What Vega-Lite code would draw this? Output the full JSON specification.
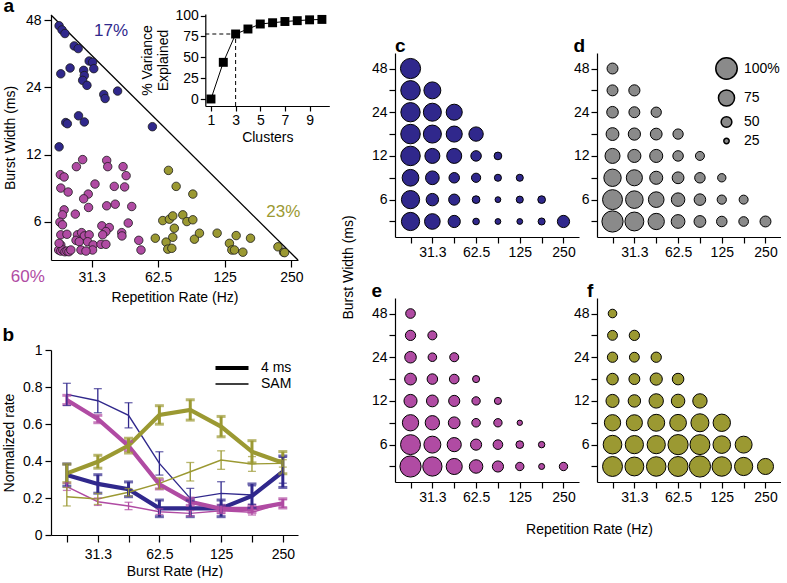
{
"$schema":"https://vega.github.io/schema/vega-lite/v6.json",
"padding":{"left":2,"top":-4,"right":0,"bottom":0},
"config":{
 "font":"Liberation Sans",
 "view":{"stroke":null},
 "axis":{"grid":false,"domainColor":"black","tickColor":"black","labelColor":"black","titleColor":"black","labelFontSize":14,"titleFontSize":14,"titleFontWeight":"normal","domainWidth":1.2,"tickWidth":1.2,"labelFont":"Liberation Sans","titleFont":"Liberation Sans"},
 "title":{"anchor":"start","frame":"bounds","fontSize":19,"fontWeight":"bold","font":"Liberation Sans","color":"black","offset":4},
 "legend":{"labelFont":"Liberation Sans","labelColor":"black"}
},
"datasets":{
 "scat":[
  {"r":22.3,"w":45.3,"g":"c1"},{"r":23.0,"w":43.4,"g":"c1"},{"r":23.7,"w":41.8,"g":"c1"},{"r":26.1,"w":36.8,"g":"c1"},{"r":27.2,"w":35.8,"g":"c1"},{"r":30.5,"w":31.5,"g":"c1"},{"r":31.6,"w":31.1,"g":"c1"},{"r":32.0,"w":29.1,"g":"c1"},{"r":28.8,"w":28.6,"g":"c1"},{"r":25.0,"w":29.3,"g":"c1"},{"r":22.7,"w":27.6,"g":"c1"},{"r":29.0,"w":27.1,"g":"c1"},{"r":28.5,"w":25.8,"g":"c1"},{"r":29.8,"w":24.5,"g":"c1"},{"r":35.5,"w":22.3,"g":"c1"},{"r":36.0,"w":21.4,"g":"c1"},{"r":41.0,"w":23.1,"g":"c1"},{"r":27.3,"w":17.9,"g":"c1"},{"r":29.0,"w":16.8,"g":"c1"},{"r":23.9,"w":16.7,"g":"c1"},{"r":24.3,"w":16.5,"g":"c1"},{"r":58.9,"w":16.0,"g":"c1"},{"r":22.3,"w":13.0,"g":"c1"},
  {"r":28.5,"w":11.4,"g":"c2"},{"r":26.7,"w":10.6,"g":"c2"},{"r":36.6,"w":11.3,"g":"c2"},{"r":37.0,"w":10.6,"g":"c2"},{"r":43.4,"w":10.6,"g":"c2"},{"r":44.8,"w":9.66,"g":"c2"},{"r":22.6,"w":9.76,"g":"c2"},{"r":23.5,"w":9.53,"g":"c2"},{"r":32.4,"w":8.86,"g":"c2"},{"r":22.7,"w":8.5,"g":"c2"},{"r":24.5,"w":8.16,"g":"c2"},{"r":39.6,"w":8.65,"g":"c2"},{"r":44.1,"w":8.6,"g":"c2"},{"r":30.2,"w":7.99,"g":"c2"},{"r":28.8,"w":7.61,"g":"c2"},{"r":30.3,"w":6.96,"g":"c2"},{"r":36.6,"w":7.08,"g":"c2"},{"r":40.0,"w":7.2,"g":"c2"},{"r":47.5,"w":7.03,"g":"c2"},{"r":23.5,"w":6.79,"g":"c2"},{"r":23.1,"w":6.45,"g":"c2"},{"r":26.4,"w":6.5,"g":"c2"},{"r":22.5,"w":5.98,"g":"c2"},{"r":23.1,"w":5.82,"g":"c2"},{"r":34.8,"w":5.76,"g":"c2"},{"r":37.6,"w":5.66,"g":"c2"},{"r":45.8,"w":5.93,"g":"c2"},{"r":36.3,"w":5.43,"g":"c2"},{"r":42.8,"w":5.37,"g":"c2"},{"r":42.9,"w":5.19,"g":"c2"},{"r":22.7,"w":5.25,"g":"c2"},{"r":24.2,"w":5.28,"g":"c2"},{"r":27.0,"w":5.25,"g":"c2"},{"r":28.2,"w":5.37,"g":"c2"},{"r":29.0,"w":5.19,"g":"c2"},{"r":30.5,"w":5.25,"g":"c2"},{"r":35.1,"w":5.25,"g":"c2"},{"r":51.1,"w":4.96,"g":"c2"},{"r":26.6,"w":4.96,"g":"c2"},{"r":27.5,"w":4.89,"g":"c2"},{"r":30.0,"w":4.89,"g":"c2"},{"r":31.8,"w":4.73,"g":"c2"},{"r":34.5,"w":4.76,"g":"c2"},{"r":36.3,"w":4.76,"g":"c2"},{"r":22.7,"w":4.73,"g":"c2"},{"r":52.3,"w":4.49,"g":"c2"},{"r":28.0,"w":4.49,"g":"c2"},{"r":31.6,"w":4.49,"g":"c2"},{"r":29.5,"w":4.44,"g":"c2"},{"r":22.2,"w":4.49,"g":"c2"},{"r":22.7,"w":4.44,"g":"c2"},{"r":23.2,"w":4.49,"g":"c2"},{"r":23.7,"w":4.41,"g":"c2"},{"r":24.2,"w":4.44,"g":"c2"},{"r":24.7,"w":4.41,"g":"c2"},{"r":25.2,"w":4.49,"g":"c2"},{"r":22.3,"w":4.81,"g":"c2"},
  {"r":69.6,"w":10.2,"g":"c3"},{"r":75.4,"w":8.65,"g":"c3"},{"r":89.7,"w":7.99,"g":"c3"},{"r":65.6,"w":6.08,"g":"c3"},{"r":70.3,"w":6.17,"g":"c3"},{"r":72.8,"w":6.38,"g":"c3"},{"r":80.8,"w":6.45,"g":"c3"},{"r":84.3,"w":6.02,"g":"c3"},{"r":89.7,"w":6.13,"g":"c3"},{"r":74.0,"w":5.62,"g":"c3"},{"r":60.7,"w":5.07,"g":"c3"},{"r":72.8,"w":5.12,"g":"c3"},{"r":67.9,"w":4.87,"g":"c3"},{"r":69.1,"w":4.53,"g":"c3"},{"r":72.1,"w":4.57,"g":"c3"},{"r":91.2,"w":5.02,"g":"c3"},{"r":96.1,"w":5.34,"g":"c3"},{"r":115.5,"w":5.34,"g":"c3"},{"r":140.8,"w":5.21,"g":"c3"},{"r":163.5,"w":5.07,"g":"c3"},{"r":131.3,"w":4.81,"g":"c3"},{"r":134.6,"w":4.49,"g":"c3"},{"r":138.3,"w":4.49,"g":"c3"},{"r":151.0,"w":4.39,"g":"c3"},{"r":217.5,"w":4.64,"g":"c3"},{"r":230.6,"w":4.39,"g":"c3"},{"r":233,"w":4.37,"g":"c3"}
 ],
 "pve":[{"k":1,"v":0},{"k":2,"v":44},{"k":3,"v":78},{"k":4,"v":84},{"k":5,"v":90},{"k":6,"v":91.5},{"k":7,"v":93},{"k":8,"v":94},{"k":9,"v":95},{"k":10,"v":95.5}],
 "br":[
  {"r":22.1,"g":"c1","s":"4 ms","m":0.324,"lo":0.264,"hi":0.384},{"r":31.3,"g":"c1","s":"4 ms","m":0.276,"lo":0.226,"hi":0.326},{"r":44.2,"g":"c1","s":"4 ms","m":0.247,"lo":0.207,"hi":0.287},{"r":62.5,"g":"c1","s":"4 ms","m":0.144,"lo":0.099,"hi":0.189},{"r":88.4,"g":"c1","s":"4 ms","m":0.144,"lo":0.099,"hi":0.189},{"r":125,"g":"c1","s":"4 ms","m":0.144,"lo":0.099,"hi":0.189},{"r":176.8,"g":"c1","s":"4 ms","m":0.211,"lo":0.146,"hi":0.276},{"r":250,"g":"c1","s":"4 ms","m":0.342,"lo":0.257,"hi":0.427},
  {"r":22.1,"g":"c1","s":"SAM","m":0.76,"lo":0.70,"hi":0.82},{"r":31.3,"g":"c1","s":"SAM","m":0.726,"lo":0.661,"hi":0.791},{"r":44.2,"g":"c1","s":"SAM","m":0.647,"lo":0.579,"hi":0.715},{"r":62.5,"g":"c1","s":"SAM","m":0.387,"lo":0.324,"hi":0.45},{"r":88.4,"g":"c1","s":"SAM","m":0.198,"lo":0.144,"hi":0.252},{"r":125,"g":"c1","s":"SAM","m":0.225,"lo":0.162,"hi":0.288},{"r":176.8,"g":"c1","s":"SAM","m":0.216,"lo":0.166,"hi":0.266},{"r":250,"g":"c1","s":"SAM","m":0.35,"lo":0.28,"hi":0.42},
  {"r":22.1,"g":"c2","s":"4 ms","m":0.73,"lo":0.705,"hi":0.755},{"r":31.3,"g":"c2","s":"4 ms","m":0.627,"lo":0.607,"hi":0.647},{"r":44.2,"g":"c2","s":"4 ms","m":0.481,"lo":0.456,"hi":0.506},{"r":62.5,"g":"c2","s":"4 ms","m":0.274,"lo":0.249,"hi":0.299},{"r":88.4,"g":"c2","s":"4 ms","m":0.18,"lo":0.16,"hi":0.2},{"r":125,"g":"c2","s":"4 ms","m":0.141,"lo":0.121,"hi":0.161},{"r":176.8,"g":"c2","s":"4 ms","m":0.141,"lo":0.121,"hi":0.161},{"r":250,"g":"c2","s":"4 ms","m":0.171,"lo":0.146,"hi":0.196},
  {"r":22.1,"g":"c2","s":"SAM","m":0.261,"lo":0.241,"hi":0.281},{"r":31.3,"g":"c2","s":"SAM","m":0.18,"lo":0.16,"hi":0.2},{"r":44.2,"g":"c2","s":"SAM","m":0.157,"lo":0.137,"hi":0.177},{"r":62.5,"g":"c2","s":"SAM","m":0.126,"lo":0.111,"hi":0.141},{"r":88.4,"g":"c2","s":"SAM","m":0.117,"lo":0.102,"hi":0.132},{"r":125,"g":"c2","s":"SAM","m":0.131,"lo":0.116,"hi":0.146},{"r":176.8,"g":"c2","s":"SAM","m":0.123,"lo":0.108,"hi":0.138},{"r":250,"g":"c2","s":"SAM","m":0.171,"lo":0.151,"hi":0.191},
  {"r":22.1,"g":"c3","s":"4 ms","m":0.333,"lo":0.283,"hi":0.383},{"r":31.3,"g":"c3","s":"4 ms","m":0.396,"lo":0.361,"hi":0.431},{"r":44.2,"g":"c3","s":"4 ms","m":0.483,"lo":0.443,"hi":0.523},{"r":62.5,"g":"c3","s":"4 ms","m":0.649,"lo":0.599,"hi":0.699},{"r":88.4,"g":"c3","s":"4 ms","m":0.676,"lo":0.621,"hi":0.731},{"r":125,"g":"c3","s":"4 ms","m":0.586,"lo":0.531,"hi":0.641},{"r":176.8,"g":"c3","s":"4 ms","m":0.45,"lo":0.39,"hi":0.51},{"r":250,"g":"c3","s":"4 ms","m":0.391,"lo":0.331,"hi":0.451},
  {"r":22.1,"g":"c3","s":"SAM","m":0.207,"lo":0.157,"hi":0.257},{"r":31.3,"g":"c3","s":"SAM","m":0.195,"lo":0.165,"hi":0.225},{"r":44.2,"g":"c3","s":"SAM","m":0.231,"lo":0.211,"hi":0.251},{"r":62.5,"g":"c3","s":"SAM","m":0.279,"lo":0.249,"hi":0.309},{"r":88.4,"g":"c3","s":"SAM","m":0.342,"lo":0.292,"hi":0.392},{"r":125,"g":"c3","s":"SAM","m":0.405,"lo":0.355,"hi":0.455},{"r":176.8,"g":"c3","s":"SAM","m":0.384,"lo":0.344,"hi":0.424},{"r":250,"g":"c3","s":"SAM","m":0.387,"lo":0.367,"hi":0.407}
 ],
 "grid":[
  {"p":"c","r":22.1,"w":48,"v":94},
  {"p":"c","r":22.1,"w":34,"v":91},{"p":"c","r":31.3,"w":34,"v":79},
  {"p":"c","r":22.1,"w":24,"v":90},{"p":"c","r":31.3,"w":24,"v":84},{"p":"c","r":44.2,"w":24,"v":75},
  {"p":"c","r":22.1,"w":17,"v":91},{"p":"c","r":31.3,"w":17,"v":84},{"p":"c","r":44.2,"w":17,"v":75},{"p":"c","r":62.5,"w":17,"v":67},
  {"p":"c","r":22.1,"w":12,"v":91},{"p":"c","r":31.3,"w":12,"v":70},{"p":"c","r":44.2,"w":12,"v":70},{"p":"c","r":62.5,"w":12,"v":49},{"p":"c","r":88.4,"w":12,"v":36},
  {"p":"c","r":22.1,"w":8.5,"v":78},{"p":"c","r":31.3,"w":8.5,"v":64},{"p":"c","r":44.2,"w":8.5,"v":49},{"p":"c","r":62.5,"w":8.5,"v":43},{"p":"c","r":88.4,"w":8.5,"v":33},{"p":"c","r":125,"w":8.5,"v":33},
  {"p":"c","r":22.1,"w":6,"v":85},{"p":"c","r":31.3,"w":6,"v":58},{"p":"c","r":44.2,"w":6,"v":52},{"p":"c","r":62.5,"w":6,"v":36},{"p":"c","r":88.4,"w":6,"v":27},{"p":"c","r":125,"w":6,"v":33},{"p":"c","r":176.8,"w":6,"v":36},
  {"p":"c","r":22.1,"w":4.2,"v":85},{"p":"c","r":31.3,"w":4.2,"v":73},{"p":"c","r":44.2,"w":4.2,"v":57},{"p":"c","r":62.5,"w":4.2,"v":31},{"p":"c","r":88.4,"w":4.2,"v":27},{"p":"c","r":125,"w":4.2,"v":27},{"p":"c","r":176.8,"w":4.2,"v":33},{"p":"c","r":250,"w":4.2,"v":57},
  {"p":"d","r":22.1,"w":48,"v":51},
  {"p":"d","r":22.1,"w":34,"v":51},{"p":"d","r":31.3,"w":34,"v":52},
  {"p":"d","r":22.1,"w":24,"v":54},{"p":"d","r":31.3,"w":24,"v":51},{"p":"d","r":44.2,"w":24,"v":48},
  {"p":"d","r":22.1,"w":17,"v":60},{"p":"d","r":31.3,"w":17,"v":57},{"p":"d","r":44.2,"w":17,"v":55},{"p":"d","r":62.5,"w":17,"v":48},
  {"p":"d","r":22.1,"w":12,"v":70},{"p":"d","r":31.3,"w":12,"v":61},{"p":"d","r":44.2,"w":12,"v":61},{"p":"d","r":62.5,"w":12,"v":49},{"p":"d","r":88.4,"w":12,"v":42},
  {"p":"d","r":22.1,"w":8.5,"v":81},{"p":"d","r":31.3,"w":8.5,"v":75},{"p":"d","r":44.2,"w":8.5,"v":61},{"p":"d","r":62.5,"w":8.5,"v":55},{"p":"d","r":88.4,"w":8.5,"v":49},{"p":"d","r":125,"w":8.5,"v":39},
  {"p":"d","r":22.1,"w":6,"v":93},{"p":"d","r":31.3,"w":6,"v":82},{"p":"d","r":44.2,"w":6,"v":73},{"p":"d","r":62.5,"w":6,"v":63},{"p":"d","r":88.4,"w":6,"v":54},{"p":"d","r":125,"w":6,"v":43},{"p":"d","r":176.8,"w":6,"v":42},
  {"p":"d","r":22.1,"w":4.2,"v":99},{"p":"d","r":31.3,"w":4.2,"v":88},{"p":"d","r":44.2,"w":4.2,"v":76},{"p":"d","r":62.5,"w":4.2,"v":64},{"p":"d","r":88.4,"w":4.2,"v":55},{"p":"d","r":125,"w":4.2,"v":49},{"p":"d","r":176.8,"w":4.2,"v":45},{"p":"d","r":250,"w":4.2,"v":51},
  {"p":"e","r":22.1,"w":48,"v":45},
  {"p":"e","r":22.1,"w":34,"v":48},{"p":"e","r":31.3,"w":34,"v":42},
  {"p":"e","r":22.1,"w":24,"v":54},{"p":"e","r":31.3,"w":24,"v":40},{"p":"e","r":44.2,"w":24,"v":42},
  {"p":"e","r":22.1,"w":17,"v":55},{"p":"e","r":31.3,"w":17,"v":49},{"p":"e","r":44.2,"w":17,"v":45},{"p":"e","r":62.5,"w":17,"v":33},
  {"p":"e","r":22.1,"w":12,"v":61},{"p":"e","r":31.3,"w":12,"v":55},{"p":"e","r":44.2,"w":12,"v":52},{"p":"e","r":62.5,"w":12,"v":39},{"p":"e","r":88.4,"w":12,"v":33},
  {"p":"e","r":22.1,"w":8.5,"v":76},{"p":"e","r":31.3,"w":8.5,"v":67},{"p":"e","r":44.2,"w":8.5,"v":55},{"p":"e","r":62.5,"w":8.5,"v":40},{"p":"e","r":88.4,"w":8.5,"v":39},{"p":"e","r":125,"w":8.5,"v":25},
  {"p":"e","r":22.1,"w":6,"v":93},{"p":"e","r":31.3,"w":6,"v":79},{"p":"e","r":44.2,"w":6,"v":66},{"p":"e","r":62.5,"w":6,"v":52},{"p":"e","r":88.4,"w":6,"v":45},{"p":"e","r":125,"w":6,"v":36},{"p":"e","r":176.8,"w":6,"v":30},
  {"p":"e","r":22.1,"w":4.2,"v":99},{"p":"e","r":31.3,"w":4.2,"v":90},{"p":"e","r":44.2,"w":4.2,"v":75},{"p":"e","r":62.5,"w":4.2,"v":63},{"p":"e","r":88.4,"w":4.2,"v":52},{"p":"e","r":125,"w":4.2,"v":39},{"p":"e","r":176.8,"w":4.2,"v":28},{"p":"e","r":250,"w":4.2,"v":39},
  {"p":"f","r":22.1,"w":48,"v":40},
  {"p":"f","r":22.1,"w":34,"v":46},{"p":"f","r":31.3,"w":34,"v":48},
  {"p":"f","r":22.1,"w":24,"v":48},{"p":"f","r":31.3,"w":24,"v":46},{"p":"f","r":44.2,"w":24,"v":48},
  {"p":"f","r":22.1,"w":17,"v":54},{"p":"f","r":31.3,"w":17,"v":51},{"p":"f","r":44.2,"w":17,"v":57},{"p":"f","r":62.5,"w":17,"v":54},
  {"p":"f","r":22.1,"w":12,"v":61},{"p":"f","r":31.3,"w":12,"v":58},{"p":"f","r":44.2,"w":12,"v":67},{"p":"f","r":62.5,"w":12,"v":63},{"p":"f","r":88.4,"w":12,"v":67},
  {"p":"f","r":22.1,"w":8.5,"v":76},{"p":"f","r":31.3,"w":8.5,"v":75},{"p":"f","r":44.2,"w":8.5,"v":79},{"p":"f","r":62.5,"w":8.5,"v":78},{"p":"f","r":88.4,"w":8.5,"v":84},{"p":"f","r":125,"w":8.5,"v":81},
  {"p":"f","r":22.1,"w":6,"v":87},{"p":"f","r":31.3,"w":6,"v":85},{"p":"f","r":44.2,"w":6,"v":85},{"p":"f","r":62.5,"w":6,"v":94},{"p":"f","r":88.4,"w":6,"v":93},{"p":"f","r":125,"w":6,"v":82},{"p":"f","r":176.8,"w":6,"v":79},
  {"p":"f","r":22.1,"w":4.2,"v":93},{"p":"f","r":31.3,"w":4.2,"v":88},{"p":"f","r":44.2,"w":4.2,"v":91},{"p":"f","r":62.5,"w":4.2,"v":93},{"p":"f","r":88.4,"w":4.2,"v":99},{"p":"f","r":125,"w":4.2,"v":91},{"p":"f","r":176.8,"w":4.2,"v":85},{"p":"f","r":250,"w":4.2,"v":75}
 ]
},
"bounds":"flush",
"align":"each",
"columns":3,
"spacing":{"row":38,"column":18},
"resolve":{"scale":{"size":"independent","strokeWidth":"independent","color":"independent"},"legend":{"size":"independent","strokeWidth":"independent","color":"independent"}},
"concat":[
  {"width":326,"height":245,"title":{"text":"a","dy":11},
   "resolve":{"scale":{"x":"independent","y":"independent"},"axis":{"x":"independent","y":"independent"}},
   "layer":[
    {"layer":[
     {"data":{"values":[{"r":20.5,"w":50.6},{"r":268,"w":4.05}]},
      "mark":{"type":"line","color":"black","strokeWidth":1.3},
      "encoding":{
       "x":{"field":"r","type":"quantitative","scale":{"type":"log","domain":[20.5,268],"range":[0,247],"nice":false},"axis":{"values":[31.3,62.5,125,250],"labelExpr":"'' + datum.value","title":"Repetition Rate (Hz)","tickSize":7,"labelPadding":3,"titlePadding":6}},
       "y":{"field":"w","type":"quantitative","scale":{"type":"log","domain":[4.05,50.6],"nice":false},"axis":{"values":[6,12,24,48],"labelExpr":"'' + datum.value","title":"Burst Width (ms)","tickSize":7,"labelPadding":3,"titlePadding":8}}}},
     {"data":{"name":"scat"},
      "mark":{"type":"circle","size":72,"opacity":1,"stroke":"#1a1a1a","strokeWidth":0.8},
      "encoding":{
       "x":{"field":"r","type":"quantitative","scale":{"type":"log","domain":[20.5,268],"range":[0,247],"nice":false},"axis":{"values":[31.3,62.5,125,250],"labelExpr":"'' + datum.value","title":"Repetition Rate (Hz)","tickSize":7,"labelPadding":3,"titlePadding":6}},
       "y":{"field":"w","type":"quantitative","scale":{"type":"log","domain":[4.05,50.6],"nice":false},"axis":{"values":[6,12,24,48],"labelExpr":"'' + datum.value","title":"Burst Width (ms)","tickSize":7,"labelPadding":3,"titlePadding":8}},
       "color":{"field":"g","type":"nominal","scale":{"domain":["c1","c2","c3"],"range":["#30288c","#b04ba3","#9b9932"]},"legend":null}}},
     {"data":{"values":[{"t":"17%","r":38.3,"w":42.8,"g":"c1"},{"t":"23%","r":230,"w":6.65,"g":"c3"},{"t":"60%","r":16.1,"w":3.4,"g":"c2"}]},
      "mark":{"type":"text","fontSize":17},
      "encoding":{
       "x":{"field":"r","type":"quantitative","scale":{"type":"log","domain":[20.5,268],"range":[0,247],"nice":false},"axis":{"values":[31.3,62.5,125,250],"labelExpr":"'' + datum.value","title":"Repetition Rate (Hz)","tickSize":7,"labelPadding":3,"titlePadding":6}},
       "y":{"field":"w","type":"quantitative","scale":{"type":"log","domain":[4.05,50.6],"nice":false},"axis":{"values":[6,12,24,48],"labelExpr":"'' + datum.value","title":"Burst Width (ms)","tickSize":7,"labelPadding":3,"titlePadding":8}},
       "color":{"field":"g","type":"nominal","scale":{"domain":["c1","c2","c3"],"range":["#30288c","#b04ba3","#9b9932"]},"legend":null},
       "text":{"field":"t"}}}
    ]},
    {"layer":[
     {"data":{"values":[{"k":0.54,"k2":3,"v":78,"v2":78},{"k":3,"k2":3,"v":-8.4,"v2":78}]},
      "mark":{"type":"rule","strokeDash":[4,3],"color":"black","strokeWidth":1},
      "encoding":{
       "x":{"field":"k","type":"quantitative","scale":{"domain":[0.54,10.6],"range":[154.3,278.3],"nice":false,"zero":false},"axis":{"orient":"bottom","offset":-154,"values":[1,3,5,7,9],"title":"Clusters","tickSize":5,"labelPadding":2,"titlePadding":3}},
       "x2":{"field":"k2"},
       "y":{"field":"v","type":"quantitative","scale":{"domain":[-8.4,102],"range":[91,-1],"nice":false,"zero":false},"axis":{"orient":"left","offset":-154.3,"values":[0,25,50,75,100],"title":["% Variance","Explained"],"tickSize":5,"labelPadding":2,"titlePadding":4}},
       "y2":{"field":"v2"}}},
     {"data":{"name":"pve"},
      "mark":{"type":"line","color":"black","strokeWidth":1},
      "encoding":{
       "x":{"field":"k","type":"quantitative","scale":{"domain":[0.54,10.6],"range":[154.3,278.3],"nice":false,"zero":false},"axis":{"orient":"bottom","offset":-154,"values":[1,3,5,7,9],"title":"Clusters","tickSize":5,"labelPadding":2,"titlePadding":3}},
       "y":{"field":"v","type":"quantitative","scale":{"domain":[-8.4,102],"range":[91,-1],"nice":false,"zero":false},"axis":{"orient":"left","offset":-154.3,"values":[0,25,50,75,100],"title":["% Variance","Explained"],"tickSize":5,"labelPadding":2,"titlePadding":4}}}},
     {"data":{"name":"pve"},
      "mark":{"type":"square","size":80,"color":"black","opacity":1},
      "encoding":{
       "x":{"field":"k","type":"quantitative","scale":{"domain":[0.54,10.6],"range":[154.3,278.3],"nice":false,"zero":false},"axis":{"orient":"bottom","offset":-154,"values":[1,3,5,7,9],"title":"Clusters","tickSize":5,"labelPadding":2,"titlePadding":3}},
       "y":{"field":"v","type":"quantitative","scale":{"domain":[-8.4,102],"range":[91,-1],"nice":false,"zero":false},"axis":{"orient":"left","offset":-154.3,"values":[0,25,50,75,100],"title":["% Variance","Explained"],"tickSize":5,"labelPadding":2,"titlePadding":4}}}}
    ]}
   ]},
    {"width":184,"height":222,"title":{"text":"c","frame":"group","dy":45},"data":{"name":"grid"},"transform":[{"filter":"datum.p == 'c'"}],
     "mark":{"type":"circle","color":"#30288c","opacity":1,"stroke":"black","strokeWidth":1},
     "encoding":{
      "x":{"field":"r","type":"ordinal","scale":{"type":"point","domain":[22.1,31.3,44.2,62.5,88.4,125,176.8,250],"padding":0.71},"axis":{"labelExpr":"indexof([31.3,62.5,125,250], datum.value) >= 0 ? datum.label : ''","labelAngle":0,"title":null,"tickSize":6,"labelPadding":2}},
      "y":{"field":"w","type":"ordinal","scale":{"type":"point","domain":[48,34,24,17,12,8.5,6,4.2],"padding":0.71,"range":[38,222]},"axis":{"labelExpr":"indexof([48,24,12,6], datum.value) >= 0 ? datum.label : ''","title":"Burst Width (ms)","titleX":-40,"titleY":252,"titleAngle":270,"titleBaseline":"bottom","titleAlign":"center","tickSize":6,"labelPadding":2}},
      "size":{"field":"v","type":"quantitative","scale":{"type":"pow","exponent":2,"domain":[0,100],"range":[0,460]},"legend":null}}},
    {"width":184,"height":222,"title":{"text":"d","dy":45},"data":{"name":"grid"},"transform":[{"filter":"datum.p == 'd'"}],
     "mark":{"type":"circle","color":"#8a8a8a","opacity":1,"stroke":"black","strokeWidth":1},
     "encoding":{
      "x":{"field":"r","type":"ordinal","scale":{"type":"point","domain":[22.1,31.3,44.2,62.5,88.4,125,176.8,250],"padding":0.71},"axis":{"labelExpr":"indexof([31.3,62.5,125,250], datum.value) >= 0 ? datum.label : ''","labelAngle":0,"title":null,"tickSize":6,"labelPadding":2}},
      "y":{"field":"w","type":"ordinal","scale":{"type":"point","domain":[48,34,24,17,12,8.5,6,4.2],"padding":0.71,"range":[38,222]},"axis":{"labelExpr":"indexof([48,24,12,6], datum.value) >= 0 ? datum.label : ''","title":null,"tickSize":6,"labelPadding":2}},
      "size":{"field":"v","type":"quantitative","scale":{"type":"pow","exponent":2,"domain":[0,100],"range":[0,460]},"legend":{"values":[100,75,50,25],"orient":"none","legendX":118,"legendY":42,"title":null,"labelFontSize":14,"labelExpr":"datum.value == 100 ? '100%' : datum.label","rowPadding":3,"labelOffset":6,"symbolFillColor":"white","encode":{"symbols":{"fill":{"value":"white"},"fillOpacity":{"value":0},"stroke":{"value":"black"},"strokeOpacity":{"value":1},"strokeWidth":{"value":1}}}}}}},
  {"width":326,"height":237,"title":{"text":"b","dy":51},"data":{"name":"br"},
   "layer":[
    {"mark":{"type":"line"},
     "encoding":{
      "x":{"field":"r","type":"quantitative","scale":{"type":"log","domain":[18.5,296.5],"range":[0,247],"nice":false},"axis":{"values":[22.1,31.3,44.2,62.5,88.4,125,176.8,250],"labelExpr":"indexof([31.3,62.5,125,250], datum.value) >= 0 ? '' + datum.value : ''","title":"Burst Rate (Hz)","tickSize":7,"labelPadding":5,"titlePadding":3}},
      "y":{"field":"m","type":"quantitative","scale":{"domain":[0,1],"range":[237,52],"nice":false},"axis":{"values":[0,0.2,0.4,0.6,0.8,1],"format":"~g","title":"Normalized rate","tickSize":6,"labelPadding":3,"titlePadding":6}},
      "color":{"field":"g","type":"nominal","scale":{"domain":["c1","c2","c3"],"range":["#30288c","#b04ba3","#9b9932"]},"legend":null},
      "strokeWidth":{"field":"s","type":"ordinal","scale":{"domain":["4 ms","SAM"],"range":[4.2,1.4]},"legend":{"title":null,"orient":"none","legendX":173,"legendY":62,"symbolType":"M-3,0H3","symbolSize":121,"labelFontSize":14,"rowPadding":0,"labelOffset":21,"symbolStrokeColor":"black","symbolFillColor":"transparent"}}}},
    {"transform":[{"filter":"datum.s == '4 ms'"}],
     "mark":{"type":"errorbar","ticks":true,"thickness":3,"size":9},
     "encoding":{
      "x":{"field":"r","type":"quantitative","scale":{"type":"log","domain":[18.5,296.5],"range":[0,247],"nice":false},"axis":{"values":[22.1,31.3,44.2,62.5,88.4,125,176.8,250],"labelExpr":"indexof([31.3,62.5,125,250], datum.value) >= 0 ? '' + datum.value : ''","title":"Burst Rate (Hz)","tickSize":7,"labelPadding":5,"titlePadding":3}},
      "y":{"field":"lo","type":"quantitative","scale":{"domain":[0,1],"range":[237,52],"nice":false},"axis":{"values":[0,0.2,0.4,0.6,0.8,1],"format":"~g","title":"Normalized rate","tickSize":6,"labelPadding":3,"titlePadding":6}},
      "y2":{"field":"hi"},
      "color":{"field":"g","type":"nominal","scale":{"domain":["c1","c2","c3"],"range":["#30288c","#b04ba3","#9b9932"]},"legend":null}}},
    {"transform":[{"filter":"datum.s == 'SAM'"}],
     "mark":{"type":"errorbar","ticks":true,"thickness":1.3,"size":8},
     "encoding":{
      "x":{"field":"r","type":"quantitative","scale":{"type":"log","domain":[18.5,296.5],"range":[0,247],"nice":false},"axis":{"values":[22.1,31.3,44.2,62.5,88.4,125,176.8,250],"labelExpr":"indexof([31.3,62.5,125,250], datum.value) >= 0 ? '' + datum.value : ''","title":"Burst Rate (Hz)","tickSize":7,"labelPadding":5,"titlePadding":3}},
      "y":{"field":"lo","type":"quantitative","scale":{"domain":[0,1],"range":[237,52],"nice":false},"axis":{"values":[0,0.2,0.4,0.6,0.8,1],"format":"~g","title":"Normalized rate","tickSize":6,"labelPadding":3,"titlePadding":6}},
      "y2":{"field":"hi"},
      "color":{"field":"g","type":"nominal","scale":{"domain":["c1","c2","c3"],"range":["#30288c","#b04ba3","#9b9932"]},"legend":null}}}
   ]},
    {"width":184,"height":184,"title":{"text":"e","dy":7},"data":{"name":"grid"},"transform":[{"filter":"datum.p == 'e'"}],
     "mark":{"type":"circle","color":"#b04ba3","opacity":1,"stroke":"black","strokeWidth":1},
     "encoding":{
      "x":{"field":"r","type":"ordinal","scale":{"type":"point","domain":[22.1,31.3,44.2,62.5,88.4,125,176.8,250],"padding":0.71},"axis":{"labelExpr":"indexof([31.3,62.5,125,250], datum.value) >= 0 ? datum.label : ''","labelAngle":0,"title":"Repetition Rate (Hz)","titleX":194,"titleAlign":"center","titlePadding":18,"tickSize":6,"labelPadding":2}},
      "y":{"field":"w","type":"ordinal","scale":{"type":"point","domain":[48,34,24,17,12,8.5,6,4.2],"padding":0.71},"axis":{"labelExpr":"indexof([48,24,12,6], datum.value) >= 0 ? datum.label : ''","title":null,"tickSize":6,"labelPadding":2}},
      "size":{"field":"v","type":"quantitative","scale":{"type":"pow","exponent":2,"domain":[0,100],"range":[0,460]},"legend":null}}},
    {"width":184,"height":184,"title":{"text":"f","frame":"group","dx":-10,"dy":7},"data":{"name":"grid"},"transform":[{"filter":"datum.p == 'f'"}],
     "mark":{"type":"circle","color":"#9b9932","opacity":1,"stroke":"black","strokeWidth":1},
     "encoding":{
      "x":{"field":"r","type":"ordinal","scale":{"type":"point","domain":[22.1,31.3,44.2,62.5,88.4,125,176.8,250],"padding":0.71},"axis":{"labelExpr":"indexof([31.3,62.5,125,250], datum.value) >= 0 ? datum.label : ''","labelAngle":0,"title":null,"tickSize":6,"labelPadding":2}},
      "y":{"field":"w","type":"ordinal","scale":{"type":"point","domain":[48,34,24,17,12,8.5,6,4.2],"padding":0.71},"axis":{"labelExpr":"indexof([48,24,12,6], datum.value) >= 0 ? datum.label : ''","title":null,"tickSize":6,"labelPadding":2}},
      "size":{"field":"v","type":"quantitative","scale":{"type":"pow","exponent":2,"domain":[0,100],"range":[0,460]},"legend":null}}}
]
}
